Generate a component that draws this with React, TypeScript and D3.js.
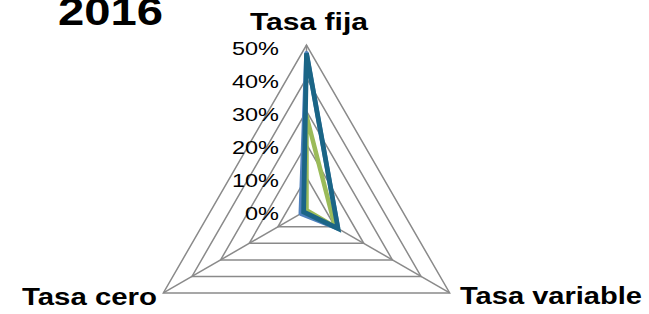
import React from "react";
import * as d3 from "d3";

const categories = ["Tasa fija", "Tasa variable", "Tasa cero"];
const tickLabels = ["0%", "10%", "20%", "30%", "40%", "50%"];
const tickValues = [0, 0.1, 0.2, 0.3, 0.4, 0.5];
const seriesLightBlue = [0.475, 0.11, 0.02];
const seriesDarkBlue = [0.475, 0.11, 0.01];
const seriesGreen = [0.285, 0.1, 0];

const W = 649;
const H = 314;
const cx = 306.5;
const cy = 210.3;
const R = 165.3;
const angles = [-90, 30, 150].map((a) => (a * Math.PI) / 180);

export default function App() {
  const r = d3.scaleLinear().domain([0, 0.5]).range([0, R]);
  const pt = (v: number, i: number): [number, number] => [
    cx + r(v) * Math.cos(angles[i]),
    cy + r(v) * Math.sin(angles[i]),
  ];
  const line = d3.line<[number, number]>().curve(d3.curveLinearClosed);
  const ring = (v: number) => line(categories.map((_, i) => pt(v, i))) as string;
  const seriesPath = (vals: number[]) => line(vals.map((v, i) => pt(v, i))) as string;
  const font = "Arial, 'Liberation Sans', sans-serif";

  return (
    <svg
      width={W}
      height={H}
      style={{ position: "absolute", left: 0, top: 0, background: "#fff" }}
    >
      {tickValues.slice(1).map((t) => (
        <path key={t} d={ring(t)} fill="none" stroke="#8a8a8a" strokeWidth={1.5} />
      ))}
      {categories.map((c, i) => {
        const [x, y] = pt(0.5, i);
        return <line key={c} x1={cx} y1={cy} x2={x} y2={y} stroke="#8a8a8a" strokeWidth={1.5} />;
      })}
      {tickValues.map((t, i) => (
        <text
          key={t}
          x={279}
          y={cy - r(t) + 9.5}
          textAnchor="end"
          fontFamily={font}
          fontSize={19}
          textLength={tickLabels[i].length === 2 ? 34 : 47}
          lengthAdjust="spacingAndGlyphs"
          fill="#000"
        >
          {tickLabels[i]}
        </text>
      ))}
      <path d={seriesPath(seriesLightBlue)} fill="none" stroke="#4F81BD" strokeWidth={4.5} strokeLinejoin="round" strokeLinecap="round" />
      <path d={seriesPath(seriesGreen)} fill="none" stroke="#9BBB59" strokeWidth={4.5} strokeLinejoin="round" strokeLinecap="round" />
      <path d={seriesPath(seriesDarkBlue)} fill="none" stroke="#1B6586" strokeWidth={4.8} strokeLinejoin="miter" />
      <text x={58} y={25} fontFamily={font} fontWeight="bold" fontSize={38} textLength={105} lengthAdjust="spacingAndGlyphs">
        2016
      </text>
      <text x={250} y={30} fontFamily={font} fontWeight="bold" fontSize={24} textLength={118} lengthAdjust="spacingAndGlyphs">
        {categories[0]}
      </text>
      <text x={460} y={304} fontFamily={font} fontWeight="bold" fontSize={23} textLength={182} lengthAdjust="spacingAndGlyphs">
        {categories[1]}
      </text>
      <text x={22} y={305} fontFamily={font} fontWeight="bold" fontSize={23} textLength={135} lengthAdjust="spacingAndGlyphs">
        {categories[2]}
      </text>
    </svg>
  );
}
